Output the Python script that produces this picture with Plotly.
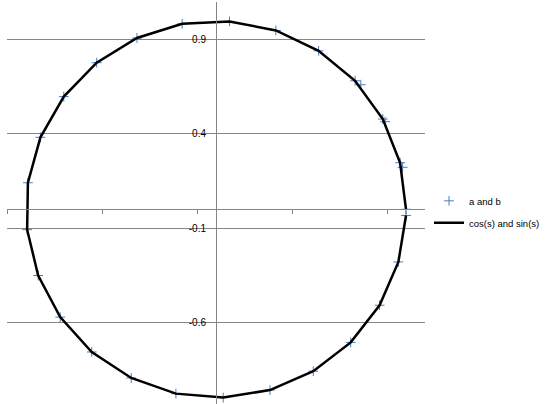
import plotly.graph_objects as go

# line series: cos(s) and sin(s), s = 0 .. 6.25 in 0.25 steps
line_x = [1.000, 0.969, 0.878, 0.732, 0.540, 0.315, 0.071, -0.178, -0.416, -0.628,
          -0.801, -0.924, -0.990, -0.994, -0.936, -0.820, -0.654, -0.446, -0.211,
          0.038, 0.284, 0.512, 0.709, 0.861, 0.960, 1.000]
line_y = [0.000, 0.247, 0.479, 0.682, 0.841, 0.949, 0.997, 0.984, 0.909, 0.778,
          0.598, 0.382, 0.141, -0.108, -0.351, -0.572, -0.757, -0.895, -0.978,
          -0.999, -0.959, -0.859, -0.706, -0.509, -0.279, -0.033]

# marker series: a and b
a_vals = [1.000, 0.969, 0.982, 0.878, 0.890, 0.732, 0.762, 0.540, 0.315, 0.071,
          -0.178, -0.416, -0.628, -0.801, -0.924, -0.990, -0.994, -0.936, -0.820,
          -0.654, -0.446, -0.211, 0.038, 0.284, 0.512, 0.709, 0.861, 0.960, 1.000]
b_vals = [0.000, 0.247, 0.223, 0.479, 0.465, 0.682, 0.661, 0.841, 0.949, 0.997,
          0.984, 0.909, 0.778, 0.598, 0.382, 0.141, -0.108, -0.351, -0.572,
          -0.757, -0.895, -0.978, -0.999, -0.959, -0.859, -0.706, -0.509, -0.279,
          -0.033]

y_tickvals = [-1.1, -0.6, -0.1, 0.4, 0.9]
y_ticktext = ["-1.1", "-0.6", "-0.1", "0.4", "0.9"]
x_tickvals = [-1.1, -0.6, -0.1, 0.4, 0.9]

X_RANGE = [-1.1, 1.1]
Y_RANGE = [-1.033, 1.1]

fig = go.Figure()

fig.add_trace(go.Scatter(
    x=a_vals, y=b_vals,
    mode="markers",
    name="a and b",
    legendgroup="ab",
    marker=dict(symbol="cross-thin", size=7, line=dict(color="#4A7EBB", width=1)),
))

fig.add_trace(go.Scatter(
    x=line_x, y=line_y,
    mode="lines",
    name="cos(s) and sin(s)",
    legendgroup="cs",
    line=dict(color="black", width=2.5),
))

# axes cross at the origin
x0_frac = (0 - X_RANGE[0]) / (X_RANGE[1] - X_RANGE[0])
y0_frac = (0 - Y_RANGE[0]) / (Y_RANGE[1] - Y_RANGE[0])

fig.update_layout(
    width=545,
    height=404,
    margin=dict(l=7, r=119, t=2, b=0),
    paper_bgcolor="white",
    plot_bgcolor="white",
    font=dict(family="Liberation Sans, Arial, sans-serif", size=10, color="black"),
    showlegend=True,
    legend=dict(
        x=1.01, y=0.478,
        xanchor="left", yanchor="middle",
        font=dict(size=9.5),
        traceorder="grouped",
        tracegroupgap=3,
        bgcolor="rgba(0,0,0,0)",
    ),
    xaxis=dict(
        range=X_RANGE,
        anchor="free",
        position=y0_frac,
        showgrid=False,
        zeroline=False,
        showline=True,
        linecolor="#868686",
        linewidth=1,
        tickmode="array",
        tickvals=x_tickvals,
        ticks="outside",
        ticklen=4,
        tickcolor="#868686",
        showticklabels=False,
        automargin=False,
    ),
    yaxis=dict(
        range=Y_RANGE,
        anchor="free",
        position=x0_frac,
        showgrid=True,
        gridcolor="#868686",
        gridwidth=1,
        zeroline=False,
        showline=True,
        linecolor="#868686",
        linewidth=1,
        tickmode="array",
        tickvals=y_tickvals,
        ticktext=y_ticktext,
        ticks="",
        ticklabelstandoff=8,
        tickfont=dict(size=10, color="black"),
        automargin=False,
    ),
)

fig.write_html("out.html", config={"displayModeBar": False},
               post_script="document.body.style.margin='0px';")
